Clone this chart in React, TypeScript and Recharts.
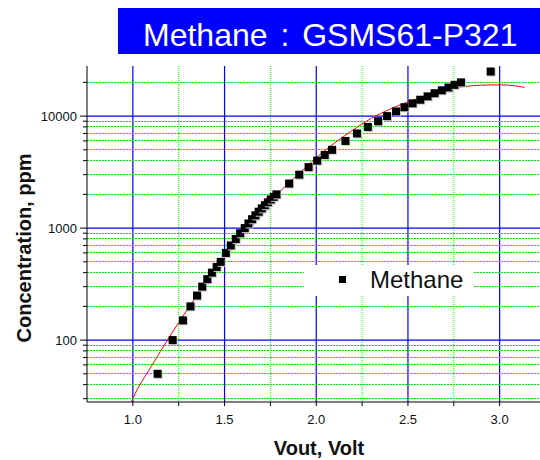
import { ComposedChart, Scatter, Line, XAxis, YAxis, CartesianGrid, ReferenceLine } from 'recharts';

// measured sensor output (V) and gas concentration (ppm)
const voutPoints = [1.135, 1.217, 1.273, 1.314, 1.35, 1.378, 1.406, 1.431, 1.457, 1.479, 1.507, 1.534, 1.561, 1.585, 1.61, 1.63, 1.65, 1.668, 1.686, 1.703, 1.72, 1.736, 1.752, 1.768, 1.783, 1.852, 1.907, 1.958, 2.005, 2.046, 2.086, 2.159, 2.222, 2.281, 2.337, 2.386, 2.435, 2.481, 2.525, 2.567, 2.607, 2.645, 2.685, 2.721, 2.754, 2.789, 2.951];
const ppmPoints = [50, 100, 150, 200, 250, 300, 350, 400, 450, 500, 600, 700, 800, 900, 1000, 1100, 1200, 1300, 1400, 1500, 1600, 1700, 1800, 1900, 2000, 2500, 3000, 3500, 4000, 4500, 5000, 6000, 7000, 8000, 9000, 10000, 11000, 12000, 13000, 14000, 15000, 16000, 17000, 18000, 19000, 20000, 25000];

// red fit curve
const fitVout = [0.98, 1.0, 1.1, 1.2, 1.3, 1.4, 1.5, 1.6, 1.7, 1.8, 1.9, 2.0, 2.1, 2.2, 2.3, 2.4, 2.5, 2.6, 2.7, 2.8, 2.9, 3.0, 3.1, 3.135];
const fitPpm = [25, 30, 58, 107, 190, 325, 535, 850, 1290, 2100, 3000, 4250, 5750, 7500, 9550, 11500, 13400, 15100, 17200, 18300, 18900, 19000, 18500, 18000];

const xMajor = [1.0, 1.5, 2.0, 2.5, 3.0];
const xMinor = [1.25, 1.75, 2.25, 2.75];
const yMajor = [100, 1000, 10000];
const yMinor = [30, 40, 50, 60, 70, 80, 90, 200, 300, 400, 500, 600, 700, 800, 900, 2000, 3000, 4000, 5000, 6000, 7000, 8000, 9000, 20000];

const points = voutPoints.map((v, i) => ({ vout: v, ppm: ppmPoints[i] }));
const fit = fitVout.map((v, i) => ({ vout: v, fit: fitPpm[i] }));

const FONT = '"Liberation Sans", Arial, sans-serif';

const Square = (p: any) => (
    <g>
        <rect x={p.cx - 3} y={p.cy - 3} width={8} height={8} fill="#c8c8c8" />
        <rect x={p.cx - 4} y={p.cy - 4} width={8} height={8} fill="#000" />
    </g>
);

const YTick = (p: any) => {
    const v = p.payload.value;
    const major = yMajor.includes(v);
    return (
        <g>
            <line x1={p.x - (major ? 7 : 4)} x2={p.x} y1={p.y} y2={p.y} stroke="#000" />
            {major && (
                <text x={p.x - 10} y={p.y + 5} textAnchor="end" fontSize={13} fontFamily={FONT} fill="#111">{v}</text>
            )}
        </g>
    );
};

const XTick = (p: any) => {
    const v = p.payload.value;
    const major = xMajor.includes(v);
    return (
        <g>
            <line x1={p.x} x2={p.x} y1={p.y} y2={p.y + 4} stroke="#000" />
            {major && (
                <text x={p.x} y={p.y + 22} textAnchor="middle" fontSize={13} fontFamily={FONT} fill="#111">{v.toFixed(1)}</text>
            )}
        </g>
    );
};

export default function App() {
    return (
        <div style={{ position: 'absolute', left: 0, top: 0, width: 540, height: 460, overflow: 'hidden', background: '#fff' }}>
            <ComposedChart width={540} height={460} margin={{ top: 66, right: 0, bottom: 0, left: 0 }}>
                <CartesianGrid horizontal={false} vertical verticalValues={xMinor}
                    stroke="#00ff00" strokeDasharray="1 1" />
                <CartesianGrid horizontal={false} vertical verticalValues={xMajor}
                    stroke="#0000ff" strokeWidth={1.2} />
                {yMinor.map((v) => (
                    <ReferenceLine key={v} y={v} stroke="#00ee00" strokeWidth={1} strokeDasharray="2 1" shapeRendering="crispEdges" />
                ))}
                {yMajor.map((v) => (
                    <ReferenceLine key={v} y={v} stroke="#0000ff" strokeWidth={1.2} />
                ))}
                <XAxis xAxisId="top" orientation="top" type="number" dataKey="vout" domain={[0.75, 3.22]}
                    allowDataOverflow height={0} tick={false} tickLine={false} axisLine={{ stroke: '#555', strokeWidth: 1.5 }} />
                <XAxis type="number" dataKey="vout" domain={[0.75, 3.22]} allowDataOverflow
                    ticks={[...xMajor, ...xMinor].sort()} interval={0} height={58}
                    tickSize={0} tickMargin={0} tickLine={false} tick={XTick}
                    axisLine={{ stroke: '#000' }}
                    label={{
                        content: () => (
                            <text x={319} y={455} textAnchor="middle" fontSize={20} fontWeight="bold" fontFamily={FONT} fill="#111">Vout, Volt</text>
                        ),
                    }} />
                <YAxis type="number" scale="log" domain={[28, 28000]} allowDataOverflow width={87}
                    ticks={[...yMinor, ...yMajor]} interval={0}
                    tickSize={0} tickMargin={0} tickLine={false} tick={YTick}
                    axisLine={{ stroke: '#000' }}
                    label={{
                        content: () => (
                            <text x={31} y={248} transform="rotate(-90 31 248)" textAnchor="middle" fontSize={20} fontWeight="bold" fontFamily={FONT} fill="#111">Concentration, ppm</text>
                        ),
                    }} />
                <Scatter data={points} dataKey="ppm" shape={Square} isAnimationActive={false} />
                <Line data={fit} dataKey="fit" type="monotone" stroke="#ff0000" strokeWidth={1} dot={false} isAnimationActive={false} />
            </ComposedChart>
            <div style={{ position: 'absolute', left: 118, top: 8, width: 422, height: 46, background: '#0000ff' }}>
                <div style={{ position: 'absolute', left: 25, top: 11, fontFamily: FONT, fontSize: 32, lineHeight: '32px', color: '#fff', whiteSpace: 'nowrap', wordSpacing: 4 }}>
                    Methane : GSMS61-P321
                </div>
            </div>
            <div style={{ position: 'absolute', left: 304, top: 265, width: 170, height: 31, background: '#fff' }}>
                <div style={{ position: 'absolute', left: 35, top: 11, width: 7, height: 7, background: '#000' }} />
                <div style={{ position: 'absolute', left: 66, top: 3, fontFamily: FONT, fontSize: 24, lineHeight: '24px', color: '#111' }}>Methane</div>
            </div>
        </div>
    );
}
